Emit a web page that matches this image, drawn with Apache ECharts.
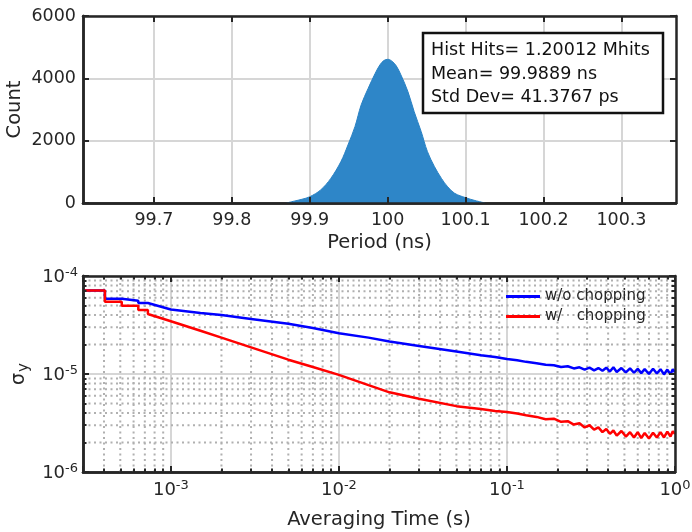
<!DOCTYPE html>
<html><head><meta charset="utf-8">
<script src="https://cdn.jsdelivr.net/npm/echarts@6/dist/echarts.min.js"></script>
<style>html,body{margin:0;padding:0;background:#fff}#c{width:692px;height:532px}</style>
</head><body><div id="c"></div><script>
// ---------- data ----------
const histX = [99.870, 99.880, 99.890, 99.900, 99.914, 99.927, 99.940, 99.949, 99.958, 99.966, 99.975, 99.984, 99.990, 99.995, 100.000, 100.005, 100.011, 100.017, 100.026, 100.034, 100.043, 100.051, 100.060, 100.069, 100.077, 100.086, 100.100, 100.112, 100.125];
const histCount = [0, 60, 120, 200, 420, 790, 1330, 1860, 2450, 3150, 3680, 4160, 4430, 4570, 4610, 4560, 4400, 4110, 3570, 2930, 2290, 1650, 1170, 790, 520, 310, 170, 80, 0];
const periodTicks = [99.7, 99.8, 99.9, 100, 100.1, 100.2, 100.3];
const statsText = ['Hist Hits= 1.20012 Mhits', 'Mean= 99.9889 ns', 'Std Dev= 41.3767 ps'];

const seriesNames = ['w/o chopping', 'w/   chopping'];
const tauBlue = [3e-4, 4.05e-4, 4.05e-4, 5.1e-4, 5.1e-4, 6.4e-4, 6.4e-4, 7.3e-4, 7.3e-4, 1e-3, 1.5e-3, 2e-3, 3e-3, 5e-3, 7e-3, 1e-2, 1.5e-2, 2e-2, 3e-2, 5e-2, 7e-2, 0.085, 0.1, 0.115, 0.13,
  0.15, 0.17, 0.19, 0.21, 0.23, 0.25, 0.27, 0.29, 0.31, 0.33, 0.35, 0.37, 0.39, 0.41, 0.43, 0.45, 0.48, 0.51, 0.54, 0.57, 0.60, 0.63, 0.66, 0.70, 0.74, 0.78, 0.82, 0.86, 0.90, 0.94, 0.97, 1.0];
const sigBlue = [7.1e-5, 7.1e-5, 5.85e-5, 5.85e-5, 5.6e-5, 5.6e-5, 5.3e-5, 5.3e-5, 5.1e-5, 4.55e-5, 4.2e-5, 4.0e-5, 3.65e-5, 3.25e-5, 2.95e-5, 2.6e-5, 2.35e-5, 2.15e-5, 1.93e-5, 1.7e-5, 1.55e-5, 1.49e-5, 1.42e-5, 1.38e-5, 1.33e-5,
  1.29e-5, 1.24e-5, 1.23e-5, 1.18e-5, 1.2e-5, 1.14e-5, 1.17e-5, 1.11e-5, 1.16e-5, 1.09e-5, 1.15e-5, 1.08e-5, 1.16e-5, 1.06e-5, 1.17e-5, 1.05e-5, 1.15e-5, 1.04e-5, 1.14e-5, 1.03e-5, 1.13e-5, 1.02e-5, 1.12e-5, 1.0e-5, 1.13e-5, 1.01e-5, 1.12e-5, 0.99e-5, 1.11e-5, 0.99e-5, 1.12e-5, 1.04e-5];
const tauRed = [3e-4, 4.05e-4, 4.05e-4, 5.1e-4, 5.1e-4, 6.4e-4, 6.4e-4, 7.3e-4, 7.3e-4, 1e-3, 1.5e-3, 2e-3, 3e-3, 5e-3, 7e-3, 1e-2, 1.5e-2, 2e-2, 3e-2, 5e-2, 7e-2, 0.085, 0.1, 0.115, 0.13,
  0.15, 0.17, 0.19, 0.21, 0.23, 0.25, 0.27, 0.29, 0.31, 0.33, 0.35, 0.37, 0.39, 0.41, 0.43, 0.45, 0.48, 0.51, 0.54, 0.57, 0.60, 0.63, 0.66, 0.70, 0.74, 0.78, 0.82, 0.86, 0.90, 0.94, 0.97, 1.0];
const sigRed = [7.1e-5, 7.1e-5, 5.45e-5, 5.45e-5, 4.98e-5, 4.98e-5, 4.5e-5, 4.5e-5, 4.1e-5, 3.45e-5, 2.76e-5, 2.35e-5, 1.87e-5, 1.4e-5, 1.18e-5, 9.8e-6, 7.7e-6, 6.5e-6, 5.6e-6, 4.7e-6, 4.4e-6, 4.2e-6, 4.1e-6, 3.95e-6, 3.8e-6,
  3.65e-6, 3.45e-6, 3.5e-6, 3.25e-6, 3.3e-6, 3.05e-6, 3.15e-6, 2.85e-6, 3.0e-6, 2.7e-6, 2.85e-6, 2.55e-6, 2.75e-6, 2.45e-6, 2.65e-6, 2.35e-6, 2.62e-6, 2.3e-6, 2.55e-6, 2.25e-6, 2.55e-6, 2.22e-6, 2.5e-6, 2.2e-6, 2.52e-6, 2.25e-6, 2.55e-6, 2.25e-6, 2.58e-6, 2.3e-6, 2.6e-6, 2.45e-6];
const minorX = [4e-4, 5e-4, 6e-4, 7e-4, 8e-4, 9e-4, 2e-3, 3e-3, 4e-3, 5e-3, 6e-3, 7e-3, 8e-3, 9e-3, 2e-2, 3e-2, 4e-2, 5e-2, 6e-2, 7e-2, 8e-2, 9e-2, 0.2, 0.3, 0.4, 0.5, 0.6, 0.7, 0.8, 0.9];
const minorY = [2e-6, 3e-6, 4e-6, 5e-6, 6e-6, 7e-6, 8e-6, 9e-6, 2e-5, 3e-5, 4e-5, 5e-5, 6e-5, 7e-5, 8e-5, 9e-5];
const tauRange = [3e-4, 1];
const sigmaRange = [1e-6, 1e-4];

// ---------- styles ----------
const FONT = 'DejaVu Sans';
const AX = '#262626';
const GRIDC = '#d6d6d6';
const lineStyleAx = { color: AX, width: 2.5 };
const tickStyle = { color: AX, width: 2 };
const nameStyle = { fontFamily: FONT, fontSize: 19.5, color: AX };
const labelStyle = { fontFamily: FONT, fontSize: 17.5, color: AX };

function powLabel(v) {
  const l = Math.log10(v);
  const e = Math.round(l);
  if (Math.abs(l - e) > 1e-6) return '';
  return '{b|10}{s|' + e + '}';
}
const powRich = {
  b: { fontFamily: FONT, fontSize: 18, color: AX, verticalAlign: 'bottom', lineHeight: 20, padding: [7, 0, 0, 0] },
  s: { fontFamily: FONT, fontSize: 13, color: AX, verticalAlign: 'top', lineHeight: 14 }
};
// helper: axis that only draws line + ticks (frame / mirrored ticks)
function frameAxis(extra, tickLen, custom, showLine) {
  return Object.assign({
    z: 5,
    axisLine: { show: showLine, onZero: false, lineStyle: lineStyleAx },
    axisTick: Object.assign({ show: true, inside: true, length: tickLen, lineStyle: tickStyle }, custom ? { customValues: custom } : {}),
    axisLabel: { show: false }, splitLine: { show: false }
  }, extra);
}

// minor grid polylines (gaps between lines)
const minorVData = [];
minorX.forEach(v => { minorVData.push([v, sigmaRange[0]], [v, sigmaRange[1]], [v, '-']); });
const minorHData = [];
minorY.forEach(v => { minorHData.push([tauRange[0], v], [tauRange[1], v], ['-', v]); });

const chart = echarts.init(document.getElementById('c'), null, { renderer: 'canvas' });
const option = {
  animation: false,
  grid: [
    { left: 83, top: 16, width: 593, height: 187, outerBoundsMode: 'none', containLabel: false },
    { left: 83, top: 276, width: 592, height: 196, outerBoundsMode: 'none', containLabel: false }
  ],
  xAxis: [
    { gridIndex: 0, type: 'value', min: 99.609, max: 100.37, position: 'bottom',
      axisLine: { show: true, onZero: false, lineStyle: lineStyleAx },
      axisTick: { show: false, customValues: periodTicks },
      axisLabel: Object.assign({ customValues: periodTicks, margin: 8, formatter: v => String(v) }, labelStyle),
      splitLine: { show: true, lineStyle: { color: GRIDC, width: 2 } },
      name: 'Period (ns)', nameLocation: 'middle', nameGap: 30, nameTextStyle: nameStyle },
    frameAxis({ gridIndex: 0, type: 'value', min: 99.609, max: 100.37, position: 'top' }, 6, periodTicks, true),
    frameAxis({ gridIndex: 0, type: 'value', min: 99.609, max: 100.37, position: 'bottom' }, 6, periodTicks, true),
    { gridIndex: 1, type: 'log', logBase: 10, min: tauRange[0], max: tauRange[1], position: 'bottom',
      axisLine: { show: true, onZero: false, lineStyle: lineStyleAx },
      axisTick: { show: false },
      axisLabel: { formatter: powLabel, rich: powRich, margin: 7 },
      splitLine: { show: true, lineStyle: { color: GRIDC, width: 2 } },
      name: 'Averaging Time (s)', nameLocation: 'middle', nameGap: 38, nameTextStyle: nameStyle },
    frameAxis({ gridIndex: 1, type: 'log', logBase: 10, min: tauRange[0], max: tauRange[1], position: 'top' }, 6, null, true),
    frameAxis({ gridIndex: 1, type: 'log', logBase: 10, min: tauRange[0], max: tauRange[1], position: 'bottom' }, 6, null, true),
    frameAxis({ gridIndex: 1, type: 'log', logBase: 10, min: tauRange[0], max: tauRange[1], position: 'bottom' }, 3.5, minorX, false),
    frameAxis({ gridIndex: 1, type: 'log', logBase: 10, min: tauRange[0], max: tauRange[1], position: 'top' }, 3.5, minorX, false)
  ],
  yAxis: [
    { gridIndex: 0, type: 'value', min: 0, max: 6000, interval: 2000, position: 'left',
      axisLine: { show: true, onZero: false, lineStyle: lineStyleAx },
      axisTick: { show: false },
      axisLabel: Object.assign({ margin: 7, formatter: v => String(v) }, labelStyle),
      splitLine: { show: true, lineStyle: { color: GRIDC, width: 2 } },
      name: 'Count', nameLocation: 'middle', nameGap: 58, nameMoveOverlap: false, nameRotate: 90, nameTextStyle: nameStyle },
    frameAxis({ gridIndex: 0, type: 'value', min: 0, max: 6000, interval: 2000, position: 'right' }, 6, null, true),
    frameAxis({ gridIndex: 0, type: 'value', min: 0, max: 6000, interval: 2000, position: 'left' }, 6, null, true),
    { gridIndex: 1, type: 'log', logBase: 10, min: sigmaRange[0], max: sigmaRange[1], position: 'left',
      axisLine: { show: true, onZero: false, lineStyle: lineStyleAx },
      axisTick: { show: false },
      axisLabel: { formatter: powLabel, rich: powRich, margin: 5 },
      splitLine: { show: true, lineStyle: { color: GRIDC, width: 2 } },
      name: '{a|σ}{b|y}', nameLocation: 'middle', nameGap: 50, nameRotate: 90,
      nameTextStyle: { rich: {
        a: { fontFamily: FONT, fontSize: 19, color: AX, verticalAlign: 'top', lineHeight: 22 },
        b: { fontFamily: FONT, fontSize: 15, color: AX, verticalAlign: 'bottom', lineHeight: 18, padding: [8, 0, 0, 1] } } } },
    frameAxis({ gridIndex: 1, type: 'log', logBase: 10, min: sigmaRange[0], max: sigmaRange[1], position: 'right' }, 6, null, true),
    frameAxis({ gridIndex: 1, type: 'log', logBase: 10, min: sigmaRange[0], max: sigmaRange[1], position: 'left' }, 6, null, true),
    frameAxis({ gridIndex: 1, type: 'log', logBase: 10, min: sigmaRange[0], max: sigmaRange[1], position: 'left' }, 3.5, minorY, false),
    frameAxis({ gridIndex: 1, type: 'log', logBase: 10, min: sigmaRange[0], max: sigmaRange[1], position: 'right' }, 3.5, minorY, false)
  ],
  legend: {
    data: seriesNames, orient: 'vertical', left: 501, top: 284, itemWidth: 34, itemHeight: 3, itemGap: 5,
    icon: 'rect', textStyle: { fontFamily: FONT, fontSize: 15, color: AX }, selectedMode: false
  },
  series: [
    { name: 'hist', type: 'line', xAxisIndex: 0, yAxisIndex: 0, z: 2,
      data: histX.map((x, i) => [x, histCount[i]]), showSymbol: false, smooth: 0.35,
      lineStyle: { color: '#2a82c4', width: 1 }, areaStyle: { color: '#2e86c8', opacity: 1 } },
    { name: 'minorV', type: 'line', xAxisIndex: 3, yAxisIndex: 3, z: 1, data: minorVData,
      showSymbol: false, silent: true, connectNulls: false,
      lineStyle: { type: [2, 3.5], color: '#b0b0b0', width: 2 } },
    { name: 'minorH', type: 'line', xAxisIndex: 3, yAxisIndex: 3, z: 1, data: minorHData,
      showSymbol: false, silent: true, connectNulls: false,
      lineStyle: { type: [2, 3.5], color: '#b0b0b0', width: 2 } },
    { name: seriesNames[0], type: 'line', xAxisIndex: 3, yAxisIndex: 3, z: 3,
      data: tauBlue.map((t, i) => [t, sigBlue[i]]), showSymbol: false, color: '#0000ff',
      lineStyle: { color: '#0000ff', width: 2.5 } },
    { name: seriesNames[1], type: 'line', xAxisIndex: 3, yAxisIndex: 3, z: 4,
      data: tauRed.map((t, i) => [t, sigRed[i]]), showSymbol: false, color: '#ff0000',
      lineStyle: { color: '#ff0000', width: 2.5 } }
  ],
  graphic: [
    { type: 'rect', shape: { x: 423, y: 33, width: 240, height: 80 }, style: { fill: '#fff', stroke: '#111', lineWidth: 2.5 }, z: 100 },
    { type: 'text', x: 431, y: 50, z: 101, style: { text: statsText[0], fontFamily: FONT, fontSize: 17.5, fill: '#111', verticalAlign: 'middle', align: 'left' } },
    { type: 'text', x: 431, y: 74, z: 101, style: { text: statsText[1], fontFamily: FONT, fontSize: 17.5, fill: '#111', verticalAlign: 'middle', align: 'left' } },
    { type: 'text', x: 431, y: 97, z: 101, style: { text: statsText[2], fontFamily: FONT, fontSize: 17.5, fill: '#111', verticalAlign: 'middle', align: 'left' } }
  ]
};
chart.setOption(option);
</script></body></html>
